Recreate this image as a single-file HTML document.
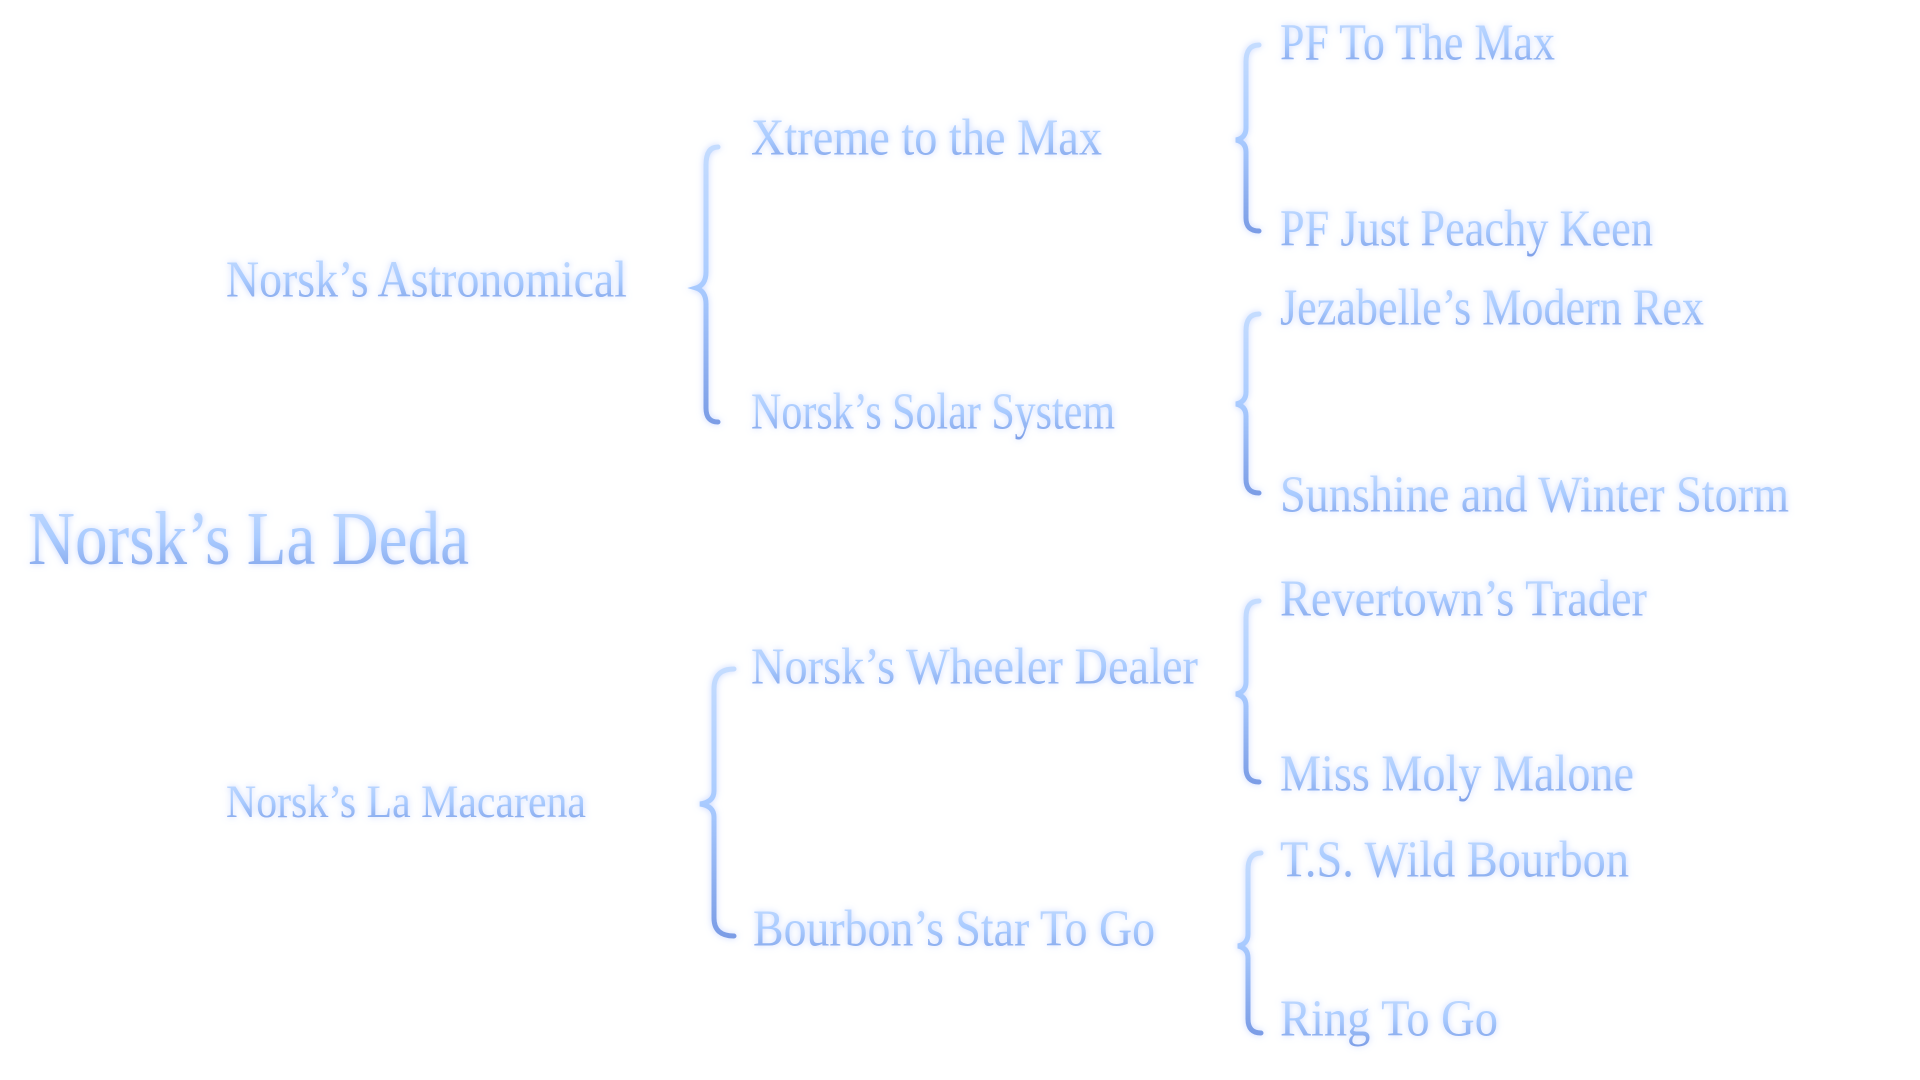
<!DOCTYPE html>
<html><head><meta charset="utf-8"><style>
html,body{margin:0;padding:0;background:#fff;width:1920px;height:1080px;overflow:hidden}
svg text{font-family:"Liberation Serif",serif;fill:url(#g);dominant-baseline:central}
</style></head><body>
<svg width="1920" height="1080" viewBox="0 0 1920 1080" xmlns="http://www.w3.org/2000/svg">
<defs>
<linearGradient id="g" x1="0" y1="0" x2="0" y2="1">
<stop offset="0" stop-color="#c4dcff"/><stop offset="0.5" stop-color="#a9cbff"/><stop offset="1" stop-color="#7b9de6"/>
</linearGradient>
<filter id="glow" x="-10%" y="-30%" width="120%" height="160%">
<feGaussianBlur in="SourceAlpha" stdDeviation="3.5" result="b"/>
<feFlood flood-color="#c2d2ff" flood-opacity="0.9"/><feComposite in2="b" operator="in" result="s"/>
<feMerge><feMergeNode in="s"/><feMergeNode in="SourceGraphic"/></feMerge>
</filter>
</defs>
<g filter="url(#glow)" transform="translate(-6,0)">
<text x="34" y="539" font-size="76" textLength="441" lengthAdjust="spacingAndGlyphs">Norsk’s La Deda</text>
<text x="232" y="280" font-size="52" textLength="401" lengthAdjust="spacingAndGlyphs">Norsk’s Astronomical</text>
<text x="232" y="802" font-size="47" textLength="360" lengthAdjust="spacingAndGlyphs">Norsk’s La Macarena</text>
<text x="757" y="138" font-size="52" textLength="351" lengthAdjust="spacingAndGlyphs">Xtreme to the Max</text>
<text x="757" y="412" font-size="52" textLength="364" lengthAdjust="spacingAndGlyphs">Norsk’s Solar System</text>
<text x="757" y="667" font-size="52" textLength="447" lengthAdjust="spacingAndGlyphs">Norsk’s Wheeler Dealer</text>
<text x="759" y="929" font-size="52" textLength="402" lengthAdjust="spacingAndGlyphs">Bourbon’s Star To Go</text>
<text x="1286" y="43" font-size="52" textLength="275" lengthAdjust="spacingAndGlyphs">PF To The Max</text>
<text x="1286" y="229" font-size="52" textLength="373" lengthAdjust="spacingAndGlyphs">PF Just Peachy Keen</text>
<text x="1286" y="308" font-size="52" textLength="424" lengthAdjust="spacingAndGlyphs">Jezabelle’s Modern Rex</text>
<text x="1286" y="495" font-size="52" textLength="509" lengthAdjust="spacingAndGlyphs">Sunshine and Winter Storm</text>
<text x="1286" y="599" font-size="52" textLength="367" lengthAdjust="spacingAndGlyphs">Revertown’s Trader</text>
<text x="1286" y="774" font-size="52" textLength="354" lengthAdjust="spacingAndGlyphs">Miss Moly Malone</text>
<text x="1286" y="860" font-size="52" textLength="349" lengthAdjust="spacingAndGlyphs">T.S. Wild Bourbon</text>
<text x="1286" y="1019" font-size="52" textLength="218" lengthAdjust="spacingAndGlyphs">Ring To Go</text>
<g fill="none" stroke="url(#g)" stroke-width="5" stroke-linecap="round">
<path d="M724,147 Q712,147 712,165 L712,272 Q712,285 702,288 Q712,291 712,304 L712,408 Q712,422 724,422"/>
<path d="M740,669 Q720,669 720,689 L720,791 Q720,802 706,804 Q720,806 720,817 L720,918 Q720,936 740,936"/>
<path d="M1265,45 Q1252,45 1252,62 L1252,128 Q1252,138 1242,140 Q1252,142 1252,152 L1252,218 Q1252,231 1265,231"/>
<path d="M1265,314 Q1252,314 1252,331 L1252,392 Q1252,402 1242,404 Q1252,406 1252,416 L1252,479 Q1252,493 1265,493"/>
<path d="M1265,601 Q1252,601 1252,618 L1252,682 Q1252,692 1242,694 Q1252,696 1252,706 L1252,768 Q1252,782 1265,782"/>
<path d="M1267,853 Q1254,853 1254,870 L1254,934 Q1254,944 1244,946 Q1254,948 1254,958 L1254,1019 Q1254,1033 1267,1033"/>
</g>
</g>
</svg>
</body></html>
